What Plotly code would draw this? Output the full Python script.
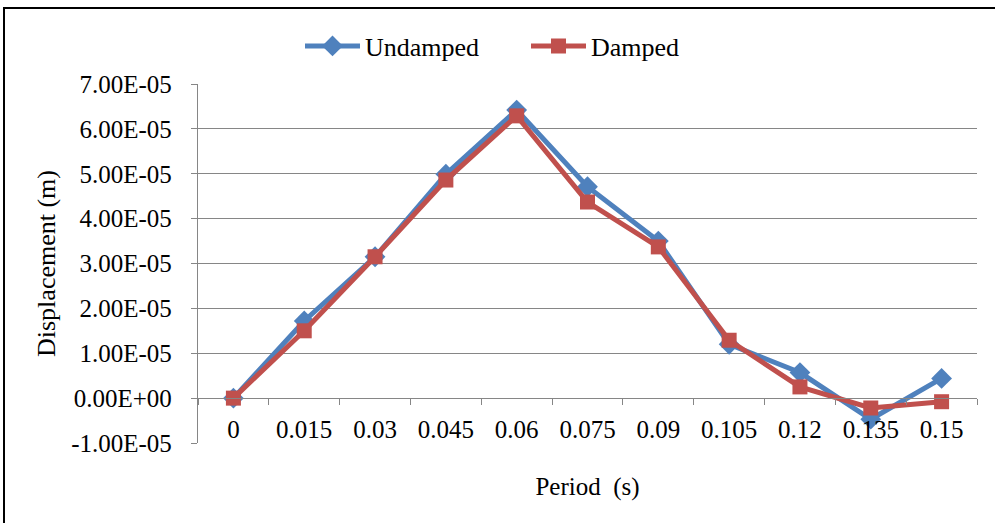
import plotly.graph_objects as go

# Period values (s) shown as category labels along the x axis
periods = ["0", "0.015", "0.03", "0.045", "0.06", "0.075", "0.09", "0.105", "0.12", "0.135", "0.15"]

# Displacement (m) for each period
undamped = [0.0, 1.72e-05, 3.15e-05, 4.99e-05, 6.42e-05, 4.71e-05, 3.50e-05, 1.20e-05, 0.57e-05, -0.47e-05, 0.44e-05]
damped = [0.0, 1.50e-05, 3.15e-05, 4.86e-05, 6.29e-05, 4.37e-05, 3.37e-05, 1.29e-05, 0.25e-05, -0.22e-05, -0.08e-05]

# Y axis ticks
y_ticks = [-1e-05, 0.0, 1e-05, 2e-05, 3e-05, 4e-05, 5e-05, 6e-05, 7e-05]
y_tick_text = [f"{v:.2E}" for v in y_ticks]
y_range = [y_ticks[0], y_ticks[-1]]

BLUE = "#4F81BD"
RED = "#C0504D"
GRID = "#868686"
FONT = "Liberation Serif"
FS = 25

W, H = 995, 523
ML, MR, MT, MB = 198, 18, 84, 80
PW, PH = W - ML - MR, H - MT - MB

fig = go.Figure()
fig.add_trace(go.Scatter(
    x=periods, y=undamped, name="Undamped", mode="lines+markers",
    line=dict(color=BLUE, width=5),
    marker=dict(symbol="diamond", size=16, color=BLUE),
))
fig.add_trace(go.Scatter(
    x=periods, y=damped, name="Damped", mode="lines+markers",
    line=dict(color=RED, width=5),
    marker=dict(symbol="square", size=15, color=RED),
))

# x axis sits on the zero line of the y axis
zero_pos = (0 - y_range[0]) / (y_range[1] - y_range[0])

fig.update_layout(
    width=W, height=H,
    margin=dict(l=ML, r=MR, t=MT, b=MB),
    paper_bgcolor="white", plot_bgcolor="white",
    font=dict(family=FONT, size=FS, color="black"),
    showlegend=True,
    legend=dict(
        orientation="h", x=(300 - ML) / PW, xanchor="left",
        y=1 + 38 / PH, yanchor="middle",
        font=dict(family=FONT, size=FS + 1), itemwidth=55,
        entrywidth=156, entrywidthmode="pixels",
        bgcolor="rgba(0,0,0,0)",
    ),
    xaxis=dict(
        type="category", anchor="free", position=zero_pos,
        range=[-0.5, len(periods) - 0.5],
        showline=True, linecolor=GRID, linewidth=1.3,
        ticks="outside", ticklen=6, tickcolor=GRID, tickwidth=1.3,
        tickson="boundaries", showgrid=False, ticklabelstandoff=9,
        tickfont=dict(family=FONT, size=FS),
        title=dict(text="Period  (s)", standoff=35, font=dict(family=FONT, size=FS)),
    ),
    yaxis=dict(
        range=y_range, tickvals=y_ticks, ticktext=y_tick_text,
        showline=True, linecolor=GRID, linewidth=1.3,
        ticks="outside", ticklen=6, tickcolor=GRID, tickwidth=1.3,
        showgrid=True, gridcolor=GRID, gridwidth=1.3,
        zeroline=False, ticklabelstandoff=14,
        tickfont=dict(family=FONT, size=FS),
        title=dict(text="Displacement (m)", standoff=8, font=dict(family=FONT, size=FS + 1)),
    ),
    shapes=[dict(
        type="rect", xref="paper", yref="paper",
        x0=(4 - ML) / PW, x1=(W + 10 - ML) / PW,
        y0=-(MB + 10) / PH, y1=1 + (MT - 8) / PH,
        line=dict(color="black", width=2), fillcolor="rgba(0,0,0,0)", layer="below",
    )],
)

fig.write_html("out.html")
